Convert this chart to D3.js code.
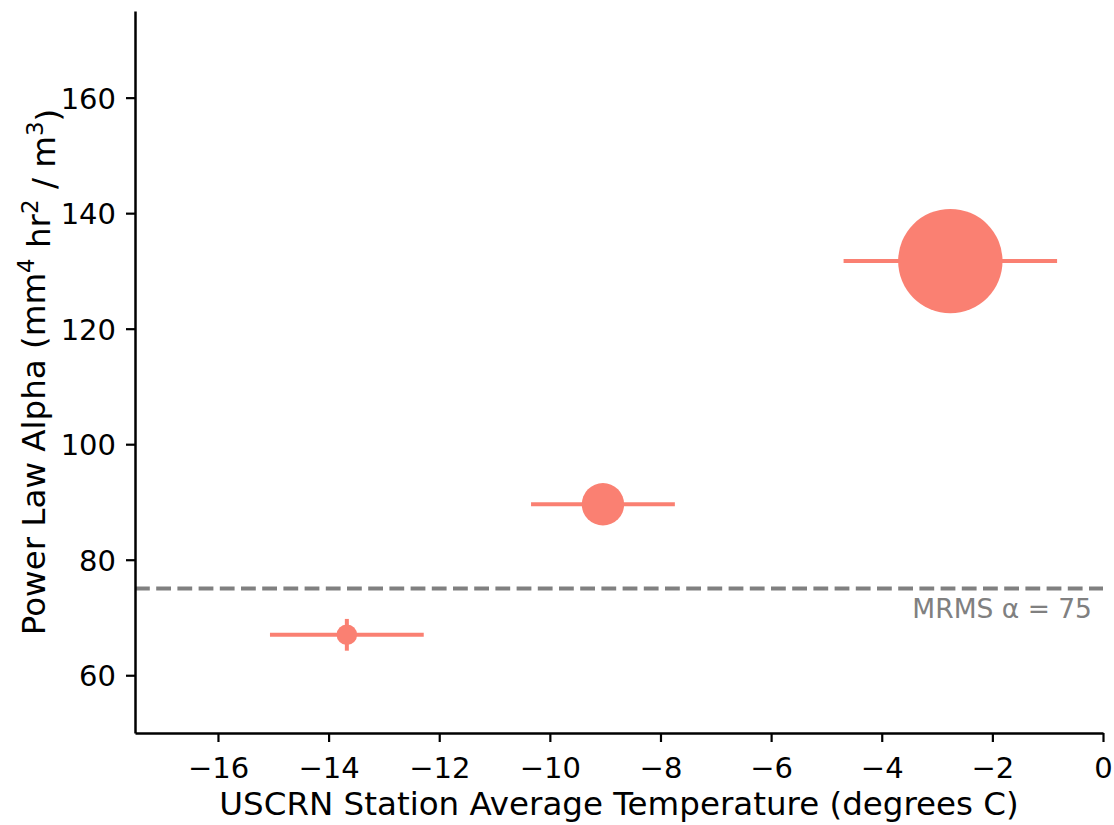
<!DOCTYPE html>
<html>
<head>
<meta charset="utf-8">
<script src="https://cdn.jsdelivr.net/npm/d3@7"></script>
<style>
  body { margin: 0; background: #fff; }
  svg { font-family: "DejaVu Sans", sans-serif; }
</style>
</head>
<body>
<svg id="chart" width="1114" height="825"></svg>
<script>
// station groups: mean temperature, mean alpha and their spreads
const temps = [-13.67, -9.04, -2.76]
const alphas = [67.0, 89.6, 131.7]
const tempErr = [1.39, 1.30, 1.93]
const alphaErr = [2.75, 0, 0]
// marker size (matplotlib style "s", area)
const counts = [106, 449, 2725]

const xTicks = [-16, -14, -12, -10, -8, -6, -4, -2, 0]
const yTicks = [60, 80, 100, 120, 140, 160]
const mrmsAlpha = 75

const width = 1114
const height = 825
const margin = { top: 11, right: 11, bottom: 92, left: 135 }
const color = "#fa8072"

const svg = d3.select("#chart")

const x = d3
  .scaleLinear()
  .domain([-17.5, 0])
  .range([margin.left, width - margin.right])
const y = d3
  .scaleLinear()
  .domain([50, 175])
  .range([height - margin.bottom, margin.top])
const r = d3
  .scaleSqrt()
  .domain([0, d3.max(counts)])
  .range([0, 52.2])

const data = temps.map((t, i) => ({
  t: t,
  a: alphas[i],
  te: tempErr[i],
  ae: alphaErr[i],
  n: counts[i],
}))

// reference line
svg
  .append("line")
  .attr("x1", x(-17.5))
  .attr("x2", x(0))
  .attr("y1", y(mrmsAlpha))
  .attr("y2", y(mrmsAlpha))
  .attr("stroke", "#808080")
  .attr("stroke-width", 4)
  .attr("stroke-dasharray", "14.8 6.4")

svg
  .append("text")
  .attr("x", x(0) - 11)
  .attr("y", y(mrmsAlpha) + 29)
  .attr("text-anchor", "end")
  .attr("fill", "#808080")
  .style("font-size", "26.5px")
  .text("MRMS α = " + mrmsAlpha)

const pts = svg.append("g").selectAll("g.pt").data(data).enter().append("g").attr("class", "pt")

pts
  .append("line")
  .attr("x1", (d) => x(d.t - d.te))
  .attr("x2", (d) => x(d.t + d.te))
  .attr("y1", (d) => y(d.a))
  .attr("y2", (d) => y(d.a))
  .attr("stroke", color)
  .attr("stroke-width", 4)

pts
  .filter((d) => d.ae > 0)
  .append("line")
  .attr("x1", (d) => x(d.t))
  .attr("x2", (d) => x(d.t))
  .attr("y1", (d) => y(d.a - d.ae))
  .attr("y2", (d) => y(d.a + d.ae))
  .attr("stroke", color)
  .attr("stroke-width", 4)

pts
  .append("circle")
  .attr("cx", (d) => x(d.t))
  .attr("cy", (d) => y(d.a))
  .attr("r", (d) => r(d.n))
  .attr("fill", color)

// axes
const xAxis = svg
  .append("g")
  .attr("transform", `translate(0,${height - margin.bottom})`)
  .call(
    d3
      .axisBottom(x)
      .tickValues(xTicks)
      .tickSize(9)
      .tickSizeOuter(0)
      .tickPadding(8)
      .tickFormat((d) => (d < 0 ? "\u2212" + Math.abs(d) : d))
  )
const yAxis = svg
  .append("g")
  .attr("transform", `translate(${margin.left},0)`)
  .call(d3.axisLeft(y).tickValues(yTicks).tickSize(9).tickSizeOuter(0).tickPadding(10))

for (const ax of [xAxis, yAxis]) {
  ax.select(".domain").attr("stroke", "#000").attr("stroke-width", 2.5)
  ax.selectAll(".tick line").attr("stroke", "#000").attr("stroke-width", 2.2)
  ax.selectAll(".tick text")
    .attr("fill", "#000")
    .style("font-size", "29px")
    .style("font-family", "DejaVu Sans")
}
xAxis.selectAll(".tick text").attr("dy", "0.95em")
yAxis.selectAll(".tick text").attr("dy", "0.36em")

svg
  .append("text")
  .attr("x", (margin.left + width - margin.right) / 2)
  .attr("y", 815)
  .attr("text-anchor", "middle")
  .style("font-size", "32.5px")
  .text("USCRN Station Average Temperature (degrees C)")

const yl = svg
  .append("text")
  .attr("transform", `translate(45,${(margin.top + height - margin.bottom) / 2}) rotate(-90)`)
  .attr("text-anchor", "middle")
  .style("font-size", "32.5px")
yl.append("tspan").text("Power Law Alpha (mm")
yl.append("tspan").attr("dy", "-0.5em").style("font-size", "23px").text("4")
yl.append("tspan").attr("dy", "0.5em").text(" hr")
yl.append("tspan").attr("dy", "-0.5em").style("font-size", "23px").text("2")
yl.append("tspan").attr("dy", "0.5em").text(" / m")
yl.append("tspan").attr("dy", "-0.5em").style("font-size", "23px").text("3")
yl.append("tspan").attr("dy", "0.5em").text(")")
</script>
</body>
</html>
